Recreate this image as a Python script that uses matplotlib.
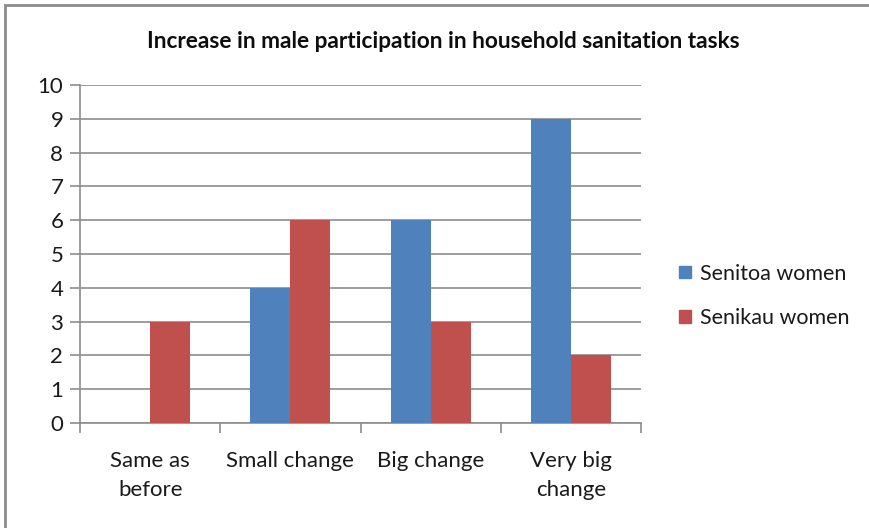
import matplotlib
matplotlib.use("Agg")
import matplotlib.pyplot as plt
from matplotlib.patches import Rectangle, Patch
import numpy as np

categories = ["Same as\nbefore", "Small change", "Big change", "Very big\nchange"]
senitoa = [0, 4, 6, 9]
senikau = [3, 6, 3, 2]
series_names = ["Senitoa women", "Senikau women"]
yticks = list(range(0, 11))
title = "Increase in male participation in household sanitation tasks"

plt.rcParams['font.family'] = ['Lato', 'DejaVu Sans']

fig = plt.figure(figsize=(8.69, 5.28), dpi=100)
ax = fig.add_axes([80/869, 1-423/528, (641-80)/869, (423-85)/528])

x = np.arange(len(categories))
w = 0.286
blue = "#4F81BD"
red = "#C0504D"
ax.bar(x - w/2, senitoa, width=w, color=blue, zorder=3)
ax.bar(x + w/2, senikau, width=w, color=red, zorder=3)

ax.set_xlim(-0.5, len(categories) - 0.5)
ax.set_ylim(0, 10)
ax.set_yticks(yticks)
ax.set_yticklabels([str(v) for v in yticks], fontsize=16, color="#1a1a1a")
ax.yaxis.grid(True, color="#8c8c8c", linewidth=1.2, zorder=0)
ax.set_axisbelow(True)

ax.set_xticks(x)
ax.set_xticklabels(categories, fontsize=16, linespacing=1.6, color="#1a1a1a")
ax.set_xticks(np.arange(-0.5, len(categories)), minor=True)
ax.tick_params(axis='x', which='major', length=0, pad=20)
ax.tick_params(axis='x', which='minor', length=7, color="#8c8c8c", width=1.2)
ax.tick_params(axis='y', length=7, color="#8c8c8c", width=1.2, pad=5)

for s in ["top", "right"]:
    ax.spines[s].set_visible(False)
for s in ["left", "bottom"]:
    ax.spines[s].set_color("#8c8c8c")
    ax.spines[s].set_linewidth(1.2)

fig.text(443/869, 1-42/528, title, ha="center", va="center", fontsize=16.3, fontweight="bold",
         color="#0d0d0d")

handles = [Patch(color=blue), Patch(color=red)]
fig.legend(handles, series_names, loc="center left", bbox_to_anchor=(660/869, 1-296/528),
           frameon=False, fontsize=15.5, handlelength=0.55, handleheight=0.55,
           handletextpad=0.4, labelspacing=1.15, labelcolor="#1a1a1a")

fig.patches.append(Rectangle((5/869, -0.1), 1.2, 1 - 5/528 + 0.1, transform=fig.transFigure,
                             fill=False, edgecolor="#8c8c8c", linewidth=2, figure=fig))

fig.savefig("out.png", dpi=100)
